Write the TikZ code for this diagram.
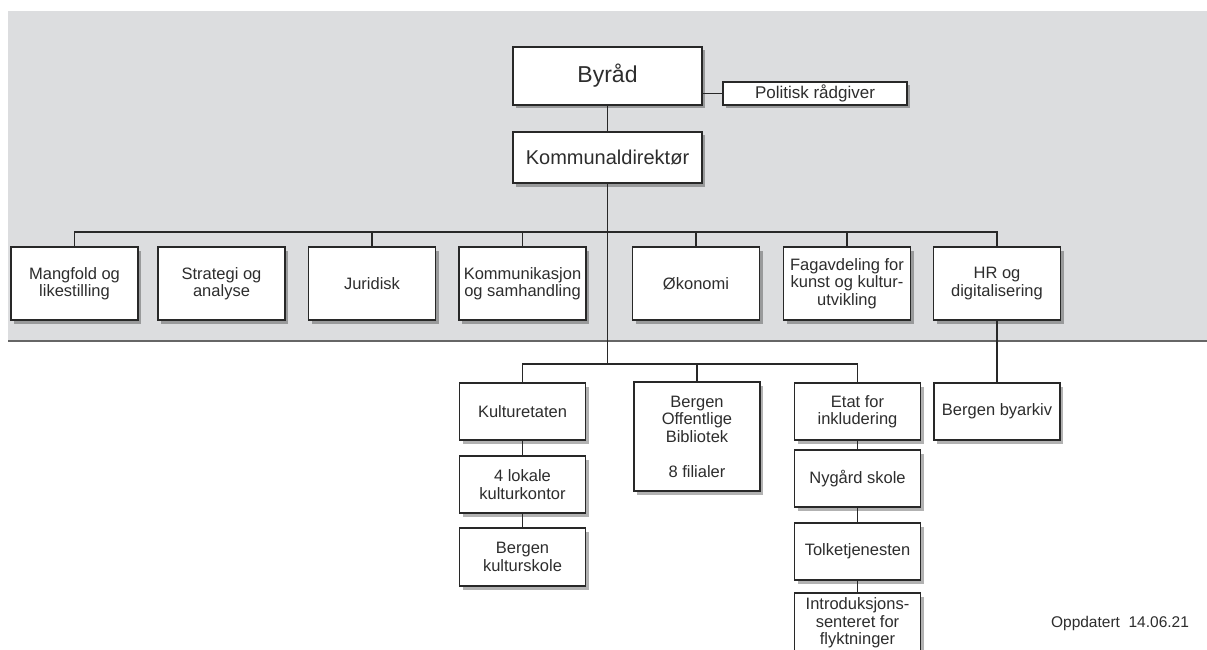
\documentclass[tikz,border=0pt]{standalone}
\usepackage{fontspec}
\setmainfont{Liberation Sans}
\usetikzlibrary{shadows}
\definecolor{bg}{RGB}{220,221,223}
\definecolor{ink}{RGB}{45,45,45}
\definecolor{edge}{RGB}{40,40,40}
\begin{document}
\begin{tikzpicture}[x=1pt,y=-1pt,
  box/.style={draw=edge, line width=1.6pt, fill=white, align=center, text=ink, inner sep=1pt,
    font=\fontsize{16.5}{17.5}\selectfont,
    drop shadow={shadow xshift=3pt, shadow yshift=-3.5pt, fill=black, opacity=0.3}},
  rowbox/.style={box, minimum width=127pt, minimum height=73pt},
  lowbox/.style={box, minimum width=126pt, minimum height=57pt},
  link/.style={draw=edge, line width=1.5pt}]
\useasboundingbox (0,0) rectangle (1207,650);
\fill[bg] (8,11) rectangle (1207,341);
\draw[line width=2pt, draw=black!60] (8,341) -- (1207,341);

% top
\node[box, minimum width=189pt, minimum height=58pt, font=\fontsize{23}{25}\selectfont] (byrad) at (607.5,76) {Byråd};
\node[box, minimum width=184pt, minimum height=23pt, font=\fontsize{17}{18}\selectfont] (polit) at (815,93.5) {Politisk rådgiver};
\node[box, minimum width=189pt, minimum height=51pt, font=\fontsize{20}{22}\selectfont] (komm) at (607.5,157.5) {Kommunaldirektør};

% row 1
\node[rowbox] (mang) at (74.5,283.5) {Mangfold og\\likestilling};
\node[rowbox] (strat) at (221.5,283.5) {Strategi og\\analyse};
\node[rowbox] (jur) at (372,283.5) {Juridisk};
\node[rowbox] (kmsam) at (522.5,283.5) {Kommunikasjon\\og samhandling};
\node[rowbox] (okon) at (696,283.5) {Økonomi};
\node[rowbox] (fag) at (847,283.5) {Fagavdeling for\\kunst og kultur-\\utvikling};
\node[rowbox] (hr) at (997,283.5) {HR og\\digitalisering};

% lower
\node[lowbox] (kult) at (522.5,411.5) {Kulturetaten};
\node[box, minimum width=126pt, minimum height=109pt] (bib) at (697,436.5) {Bergen\\Offentlige\\Bibliotek\\[17.5pt]8 filialer};
\node[lowbox] (etat) at (857.5,411.5) {Etat for\\inkludering};
\node[lowbox] (byark) at (997,411.5) {Bergen byarkiv};
\node[lowbox] (lok) at (522.5,484.5) {4 lokale\\kulturkontor};
\node[lowbox, minimum height=58pt] (kskole) at (522.5,557) {Bergen\\kulturskole};
\node[lowbox] (nyg) at (857.5,478.5) {Nygård skole};
\node[lowbox] (tolk) at (857.5,551.5) {Tolketjenesten};
\node[lowbox, minimum height=60pt] (intro) at (857.5,623) {Introduksjons-\\senteret for\\flyktninger};

\node[text=ink, font=\fontsize{15.5}{17}\selectfont] (upd) at (1120,623) {Oppdatert\ \ 14.06.21};

% bus coordinates
\coordinate (bus1) at (607.5,232);
\coordinate (bus2) at (607.5,364);

% connectors
\draw[link] (byrad) -- (komm);
\draw[link] (polit.west -| byrad.east) -- (polit.west);
\draw[link] (komm.south) -- (bus2);
\draw[link] (mang.north) |- (bus1) -| (hr.north);
\draw[link] (jur.north) -- (jur.north |- bus1);
\draw[link] (kmsam.north) -- (kmsam.north |- bus1);
\draw[link] (okon.north) -- (okon.north |- bus1);
\draw[link] (fag.north) -- (fag.north |- bus1);
\draw[link] (kult.north) |- (bus2) -| (etat.north);
\draw[link] (bib.north) -- (bib.north |- bus2);
\draw[link] (hr.south) -- (byark.north);
\draw[link] (kult) -- (lok);
\draw[link] (lok) -- (kskole);
\draw[link] (etat) -- (nyg);
\draw[link] (nyg) -- (tolk);
\draw[link] (tolk) -- (intro);
\end{tikzpicture}
\end{document}
